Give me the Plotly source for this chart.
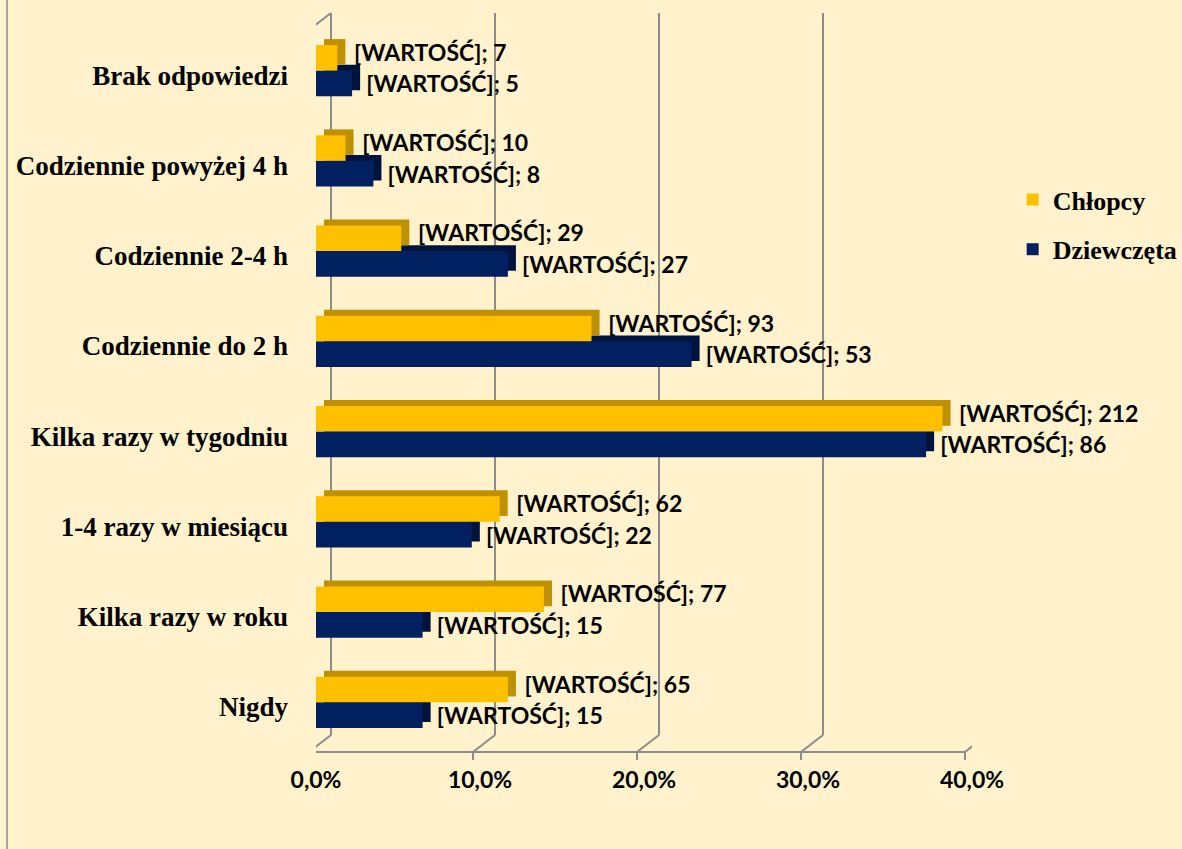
import plotly.graph_objects as go

categories = ["Brak odpowiedzi", "Codziennie powyżej 4 h", "Codziennie 2-4 h",
              "Codziennie do 2 h", "Kilka razy w tygodniu", "1-4 razy w miesiącu",
              "Kilka razy w roku", "Nigdy"]
chlopcy_pct = [1.3, 1.8, 5.2, 16.8, 38.2, 11.2, 13.9, 11.7]
dziewczeta_pct = [2.2, 3.5, 11.7, 22.9, 37.2, 9.5, 6.5, 6.5]
chlopcy_n = [7, 10, 29, 93, 212, 62, 77, 65]
dziewczeta_n = [5, 8, 27, 53, 86, 22, 15, 15]
x_ticks = [0, 10, 20, 30, 40]
x_tick_labels = ["0,0%", "10,0%", "20,0%", "30,0%", "40,0%"]

GOLD, GOLD_DARK = "#FFC000", "#BF9000"
NAVY, NAVY_DARK = "#002060", "#00133D"
BG = "#FFF2CC"
GRID = "#8C8C8C"

W = 0.283          # bar thickness (category units)
UP = 0.066         # 3D depth vertical shift
DX = 0.49          # 3D depth horizontal shift (data units)
LBL = dict(family="Lato", size=23, color="black", weight="bold")

fig = go.Figure()
# depth faces (drawn first, behind)
fig.add_trace(go.Bar(y=categories, x=dziewczeta_pct, base=DX, orientation="h",
                     width=W, offset=-0.05 - UP, marker=dict(color=NAVY_DARK, line_width=0),
                     showlegend=False, hoverinfo="skip"))
fig.add_trace(go.Bar(y=categories, x=chlopcy_pct, base=DX, orientation="h",
                     width=W, offset=-0.333 - UP, marker=dict(color=GOLD_DARK, line_width=0),
                     customdata=chlopcy_n,
                     texttemplate="\u00a0[WARTOŚĆ]; %{customdata}", textposition="outside",
                     textfont=LBL, constraintext="none", cliponaxis=False,
                     showlegend=False, hoverinfo="skip"))
# front faces
fig.add_trace(go.Bar(y=categories, x=dziewczeta_pct, orientation="h", name="Dziewczęta",
                     width=W, offset=-0.05, marker=dict(color=NAVY, line_width=0),
                     customdata=dziewczeta_n,
                     texttemplate="\u00a0\u00a0[WARTOŚĆ]; %{customdata}", textposition="outside",
                     textfont=LBL, constraintext="none", cliponaxis=False,
                     legendgroup="d", legendrank=2))
fig.add_trace(go.Bar(y=categories, x=chlopcy_pct, orientation="h", name="Chłopcy",
                     width=W, offset=-0.333, marker=dict(color=GOLD, line_width=0),
                     legendgroup="c", legendrank=1))

BACK_X = 0.915
FRONT_X = -0.427
BACK_Y = 0.0235
shapes = []
line = dict(color=GRID, width=2)
for v in x_ticks:
    shapes.append(dict(type="line", xref="x", yref="paper", x0=v + BACK_X, x1=v + BACK_X,
                       y0=BACK_Y, y1=1 + BACK_Y, line=line, layer="below"))
    shapes.append(dict(type="line", xref="x", yref="paper", x0=v + FRONT_X, x1=v + BACK_X,
                       y0=0, y1=BACK_Y, line=line, layer="below"))
    shapes.append(dict(type="line", xref="x", yref="paper", x0=v + FRONT_X, x1=v + FRONT_X,
                       y0=0, y1=-0.011, line=line, layer="below"))
shapes.append(dict(type="line", xref="x", yref="paper", x0=FRONT_X, x1=x_ticks[-1] + FRONT_X,
                   y0=0, y1=0, line=line, layer="below"))
shapes.append(dict(type="line", xref="x", yref="paper", x0=FRONT_X, x1=FRONT_X,
                   y0=0, y1=1, line=line, layer="below"))
shapes.append(dict(type="line", xref="x", yref="paper", x0=FRONT_X, x1=BACK_X,
                   y0=1, y1=1 + BACK_Y, line=line, layer="below"))
n = len(categories)
for k in range(n + 1):
    shapes.append(dict(type="line", xref="x", yref="paper", x0=-0.976, x1=FRONT_X,
                       y0=k / n, y1=k / n, line=line, layer="below"))
# chart border
shapes.append(dict(type="line", xref="paper", yref="paper", x0=-0.471, x1=-0.471,
                   y0=-0.2, y1=1.1, line=dict(color="#A6A6A6", width=2)))

fig.update_layout(
    width=1182, height=849,
    paper_bgcolor=BG, plot_bgcolor=BG,
    barmode="overlay",
    margin=dict(l=316, r=210, t=30, b=97, autoexpand=False),
    shapes=shapes,
    xaxis=dict(range=[0, 40], tickvals=x_ticks, ticktext=x_tick_labels,
               showgrid=False, zeroline=False, showline=False, ticks="",
               ticklabelstandoff=12,
               tickfont=dict(family="Lato", size=23, color="black", weight="bold")),
    yaxis=dict(type="category", autorange="reversed", showgrid=False, zeroline=False,
               showline=False, ticks="", ticklabelstandoff=27,
               tickfont=dict(family="Liberation Serif", size=27, color="black", weight="bold")),
    legend=dict(x=1.062, xanchor="left", y=0.7306, yanchor="middle",
                traceorder="grouped", tracegroupgap=13, bgcolor="rgba(0,0,0,0)",
                font=dict(family="Liberation Serif", size=26, color="black", weight="bold")),
    showlegend=True,
)

fig.write_html("out.html", config={"displayModeBar": False},
               post_script="document.body.style.margin='0';document.body.style.overflow='hidden';")
